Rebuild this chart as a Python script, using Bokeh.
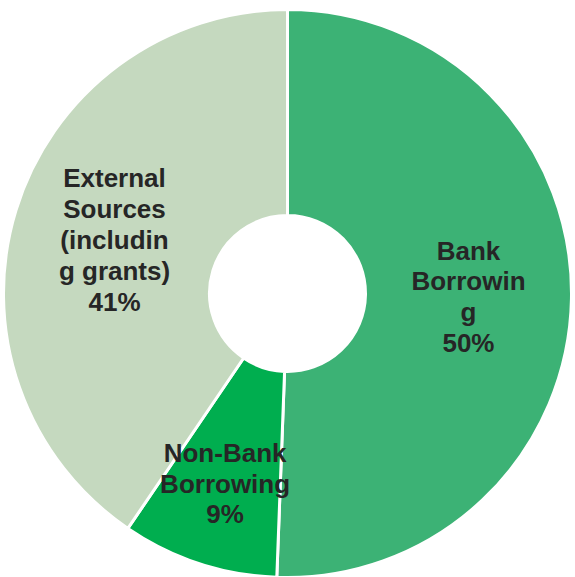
import math
from bokeh.plotting import figure
from bokeh.models import ColumnDataSource
from bokeh.core.properties import value
from bokeh.embed import file_html
from bokeh.resources import INLINE

categories = ["Bank\nBorrowin\ng", "Non-Bank\nBorrowing", "External\nSources\n(includin\ng grants)"]
shares = [50.6, 8.9, 40.5]
pct_labels = ["50%", "9%", "41%"]
colors = ["#3CB275", "#00AE4F", "#C5D9BF"]
label_r = [181, 200, 181]

W, H = 575, 577
cx, cy = 287, H - 293
r_out, r_in = 284, 78

total = sum(shares)
starts, ends, lx, ly, texts = [], [], [], [], []
cum = 0.0
for s, cat, pl, lr in zip(shares, categories, pct_labels, label_r):
    a0 = math.pi / 2 - 2 * math.pi * cum / total
    cum += s
    a1 = math.pi / 2 - 2 * math.pi * cum / total
    starts.append(a0)
    ends.append(a1)
    mid = (a0 + a1) / 2
    lx.append(cx + lr * math.cos(mid))
    ly.append(cy + lr * math.sin(mid))
    texts.append(cat + "\n" + pl)

src = ColumnDataSource(dict(start=starts, end=ends, color=colors, lx=lx, ly=ly, text=texts))

p = figure(width=W, height=H, x_range=(0, W), y_range=(0, H),
           output_backend="svg", toolbar_location=None, min_border=0)
p.axis.visible = False
p.grid.visible = False
p.outline_line_color = None
p.background_fill_color = "white"
p.border_fill_color = "white"

p.annular_wedge(x=cx, y=cy, inner_radius=r_in, outer_radius=r_out,
                start_angle="start", end_angle="end", direction="clock",
                fill_color="color", line_color="white", line_width=3, source=src)

p.text(x="lx", y="ly", text="text", source=src, text_align="center",
       text_baseline="middle", text_font=value("Liberation Sans"),
       text_font_style="bold", text_font_size="26px", text_color="#262626",
       text_line_height=1.03)

open("out.html", "w").write(file_html(p, INLINE))
